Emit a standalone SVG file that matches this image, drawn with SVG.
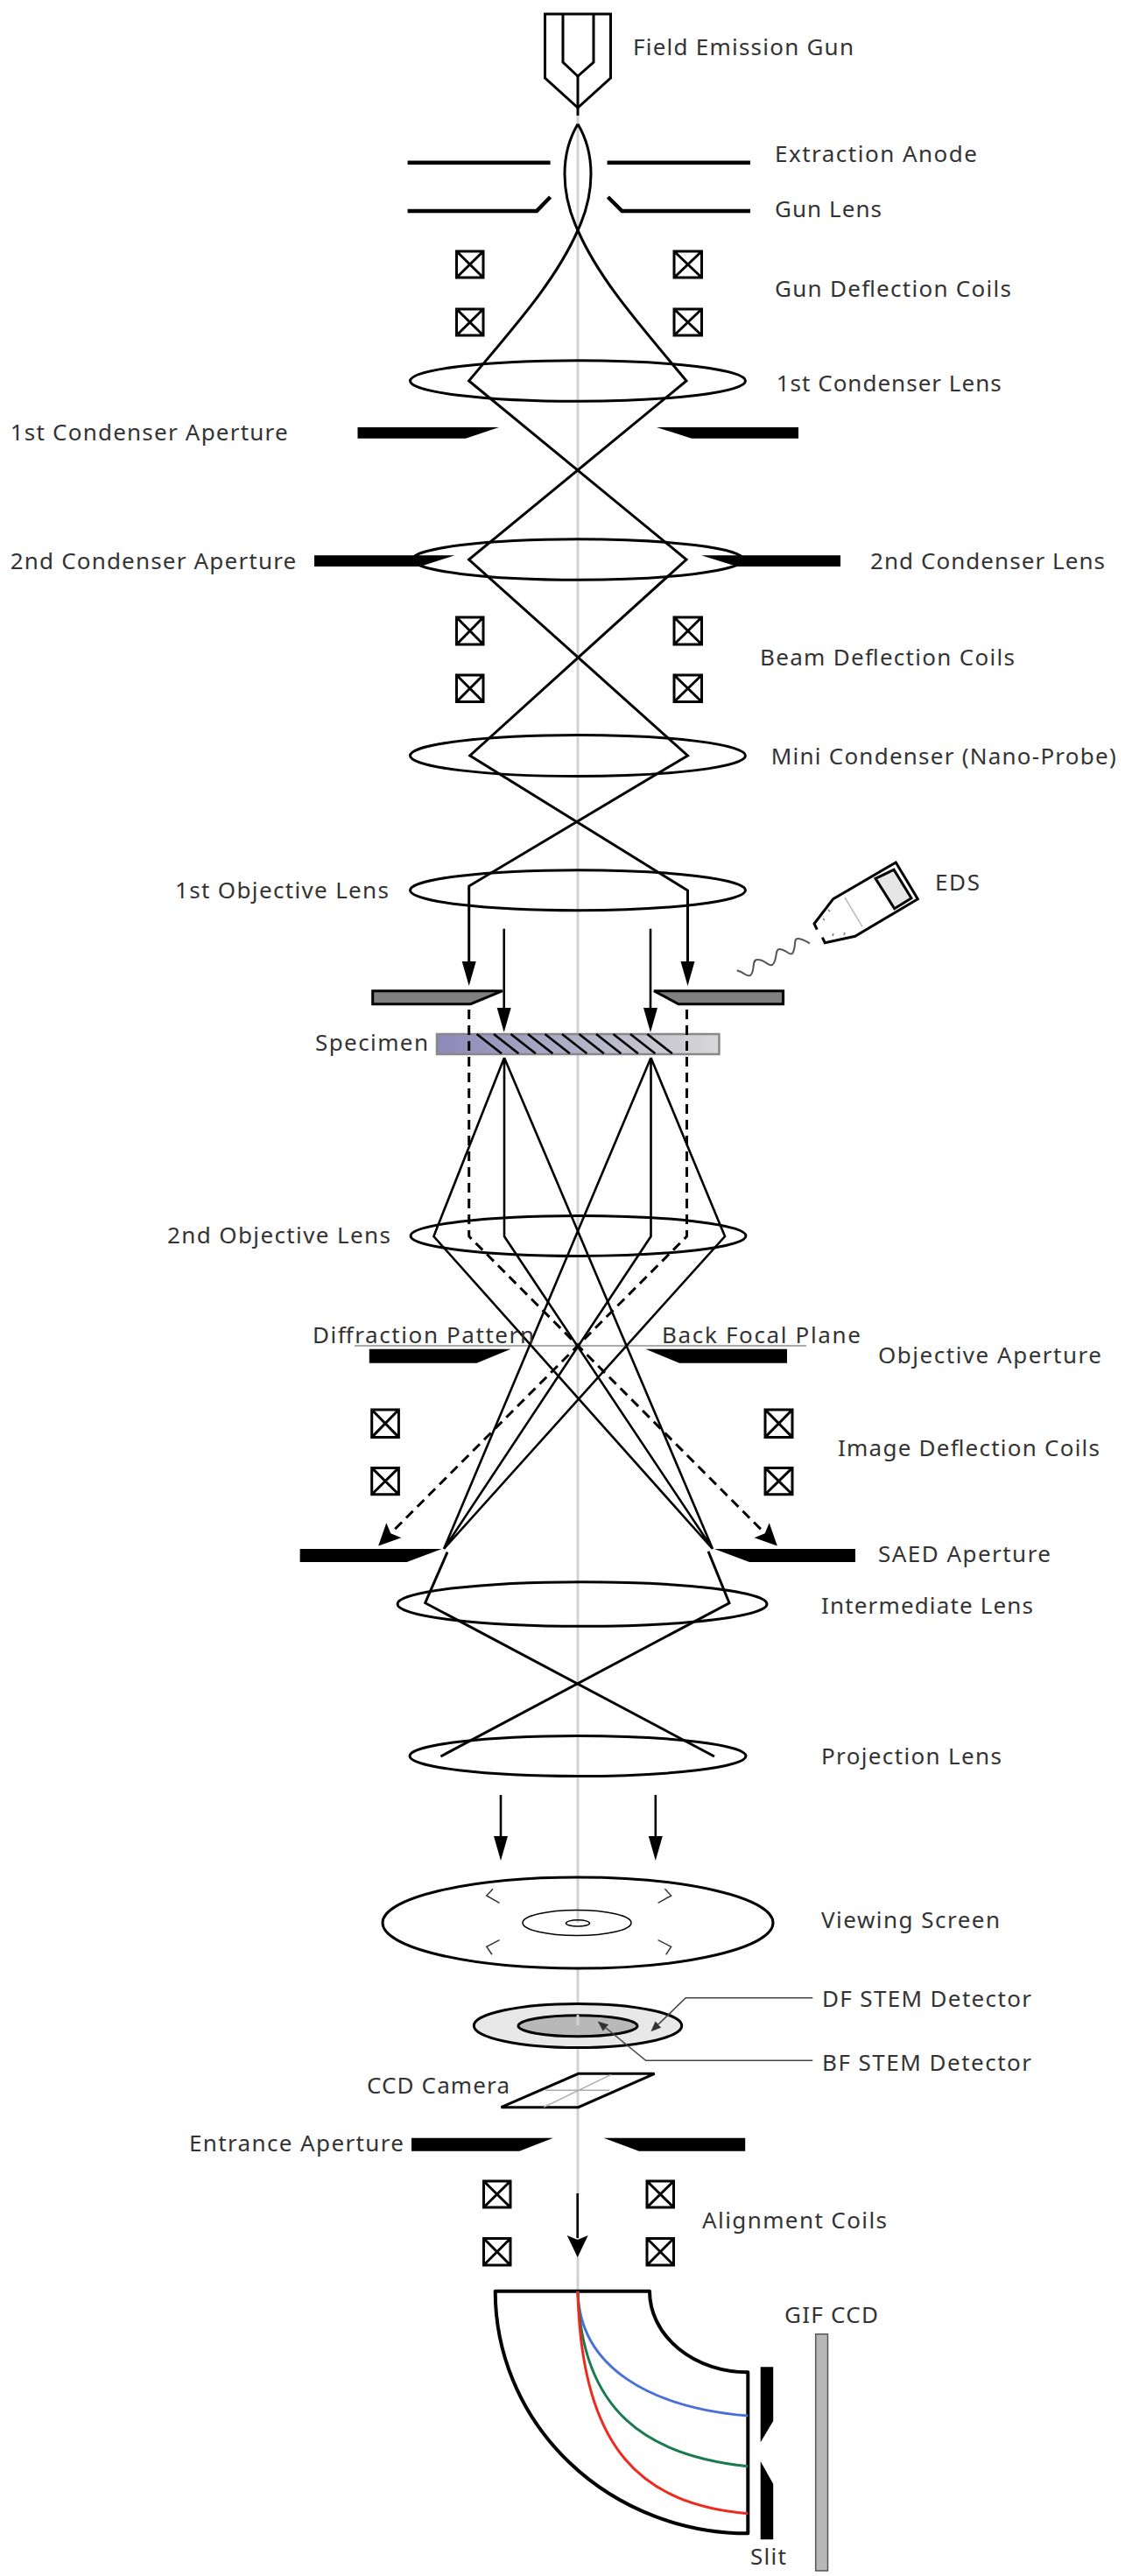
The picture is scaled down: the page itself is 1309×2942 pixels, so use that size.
<svg xmlns="http://www.w3.org/2000/svg" width="1309" height="2942" viewBox="0 0 1309 2942">
<style>
text{font-family:"Noto Sans","Open Sans",sans-serif;font-size:26px;fill:#333}
.ln{fill:none;stroke:#000;stroke-width:3;stroke-linejoin:miter}
.thin{fill:none;stroke:#000;stroke-width:2.6}
.lens{fill:none;stroke:#000;stroke-width:3}
.coil{fill:#fff;stroke:#000;stroke-width:3}
.ap{fill:#000;stroke:none}
.axis{fill:none;stroke:#d2d2d2;stroke-width:3}
.gl{fill:none;stroke:#aaa;stroke-width:1.5}
.dash{fill:none;stroke:#000;stroke-width:3;stroke-dasharray:11 7}
.lead{fill:none;stroke:#444;stroke-width:1.6}
</style>
<defs>
<marker id="head" markerUnits="userSpaceOnUse" markerWidth="30" markerHeight="20" refX="0" refY="10" orient="auto"><path d="M0,2 L28,10 L0,18 Z" fill="#000"/></marker>
<marker id="headn" markerUnits="userSpaceOnUse" markerWidth="30" markerHeight="30" refX="3" refY="13" orient="auto"><path d="M0,1 L5,13 L0,25 L25,13 Z" fill="#000"/></marker>
<marker id="small" markerUnits="userSpaceOnUse" markerWidth="14" markerHeight="12" refX="0" refY="6" orient="auto"><path d="M0,1 L12,6 L0,11 Z" fill="#333"/></marker>
<linearGradient id="spec" x1="0" x2="1" y1="0" y2="0"><stop offset="0" stop-color="#8d88b8"/><stop offset="1" stop-color="#d8d8d8"/></linearGradient>
</defs>

<g id="axis"><path class="axis" d="M660,132V2196M660,2248V2313M660,2338V2617"/></g>

<g id="field-emission-gun">
<path class="ln" d="M622.5,16H697.5V89L660,123L622.5,89Z"/>
<path class="ln" d="M643,16V71L660,87L678,71V16"/>
<path class="ln" d="M660,87V132"/>
</g>
<g id="extraction-anode"><path class="ln" style="stroke-width:4.5" d="M465.6,185.7H628.6M693.6,185.7H857"/></g>
<g id="gun-lens"><path class="ln" style="stroke-width:4.5" d="M465.6,241H613L628.6,225M694.4,225L710.5,241H857"/></g>
<g id="gun-deflection-coils">
<path class="coil" d="M521.5,287h30.5v30h-30.5zM521.5,287l30.5,30M552,287l-30.5,30"/>
<path class="coil" d="M521.5,353h30.5v30h-30.5zM521.5,353l30.5,30M552,353l-30.5,30"/>
<path class="coil" d="M770,287h31.5v30h-31.5zM770,287l31.5,30M801.5,287l-31.5,30"/>
<path class="coil" d="M770,353h31.5v30h-31.5zM770,353l31.5,30M801.5,353l-31.5,30"/>
</g>
<g id="first-condenser-lens"><ellipse class="lens" cx="660" cy="435" rx="191.5" ry="23.3"/></g>
<g id="first-condenser-aperture">
<path class="ap" d="M408.5,488H570L532,500.7H408.5Z"/>
<path class="ap" d="M750,488H912V500.7H790Z"/>
</g>
<g id="second-condenser-lens"><ellipse class="lens" cx="660" cy="639" rx="189" ry="23.2"/></g>
<g id="second-condenser-aperture">
<path class="ap" d="M359,634.3H519.5L480,647H359Z"/>
<path class="ap" d="M801,634.3H960V647H842Z"/>
</g>
<g id="beam-deflection-coils">
<path class="coil" d="M521.5,705h30.5v31h-30.5zM521.5,705l30.5,31M552,705l-30.5,31"/>
<path class="coil" d="M521.5,771h30.5v30.5h-30.5zM521.5,771l30.5,30.5M552,771l-30.5,30.5"/>
<path class="coil" d="M770,705h31.5v31h-31.5zM770,705l31.5,31M801.5,705l-31.5,31"/>
<path class="coil" d="M770,771h31.5v30.5h-31.5zM770,771l31.5,30.5M801.5,771l-31.5,30.5"/>
</g>
<g id="mini-condenser"><ellipse class="lens" cx="660" cy="863" rx="191.5" ry="23.5"/></g>
<g id="first-objective-lens"><ellipse class="lens" cx="660" cy="1016.7" rx="191.5" ry="23"/></g>

<g id="objective-stop">
<path d="M425.7,1131.7H574L537.5,1146.7H425.7Z" fill="#808080" stroke="#000" stroke-width="3"/>
<path d="M747,1131.7H894.6V1146.7H775Z" fill="#808080" stroke="#000" stroke-width="3"/>
</g>
<g id="specimen">
<rect x="499" y="1181" width="322.4" height="23" fill="url(#spec)" stroke="#888" stroke-width="2.5"/>
<path class="thin" d="M544.6,1181l28.4,22.3M564,1181l28.4,22.3M583.5,1181l28.4,22.3M603,1181l28.4,22.3M622.5,1181l28.4,22.3M642,1181l28.4,22.3M661.5,1181l28.4,22.3M681,1181l28.4,22.3M700.5,1181l28.4,22.3M720,1181l28.4,22.3M739.3,1181l28.6,22.3"/>
</g>
<g id="eds">
<path class="gl" style="stroke:#bbb" d="M965,1025L985,1058.3"/>
<path fill="none" stroke="#000" stroke-width="3" d="M933.3,1061.7L930,1055L951.7,1026.7L1023.3,985L1048.3,1026.7L976.7,1069.3L942.3,1076.7L939.3,1070.7"/>
<path fill="#e6e6e6" stroke="#000" stroke-width="3" d="M1000,1003.3L1021,993.3L1041,1025.7L1021.7,1037.7Z"/>
<path fill="none" stroke="#777" stroke-width="1.5" d="M946,1039l2,2M940,1049l2,2M951,1069l1,-3M964,1068l1,-3"/>
<path fill="none" stroke="#555" stroke-width="2" d="M841.7,1108.3C852,1111 852,1116 857,1114C863,1110 858,1096 865,1096C875,1096 877,1104 882,1102C888,1098 885,1084 890,1084C898,1084 902,1092 905,1089C910,1082 906,1072 911,1072C916,1072 921,1075 925,1077.3"/>
</g>
<g id="second-objective-lens"><ellipse class="lens" cx="660.5" cy="1411.4" rx="191.5" ry="23"/></g>
<g id="objective-aperture">
<path class="ap" d="M421.8,1540.7H583.4L544.6,1556.8H421.8Z"/>
<path class="ap" d="M737.4,1540.7H899V1556.8H776Z"/>
</g>
<g id="back-focal-plane"><path fill="none" stroke="#aaa" stroke-width="2" d="M405,1537H921"/></g>
<g id="image-deflection-coils">
<path class="coil" d="M424.7,1610h30.7v31.4h-30.7zM424.7,1610l30.7,31.4M455.4,1610l-30.7,31.4"/>
<path class="coil" d="M424.7,1676.4h30.7v30.4h-30.7zM424.7,1676.4l30.7,30.4M455.4,1676.4l-30.7,30.4"/>
<path class="coil" d="M874,1610h31v31.4h-31zM874,1610l31,31.4M905,1610l-31,31.4"/>
<path class="coil" d="M874,1676.4h31v30.4h-31zM874,1676.4l31,30.4M905,1676.4l-31,30.4"/>
</g>
<g id="saed-aperture">
<path class="ap" d="M342.6,1769H504.7L464.7,1784H342.6Z"/>
<path class="ap" d="M816,1769H977V1784H856Z"/>
</g>
<g id="intermediate-lens"><ellipse class="lens" cx="665" cy="1832" rx="211" ry="25.3"/></g>
<g id="projection-lens"><ellipse class="lens" cx="660" cy="2005.5" rx="192" ry="23"/></g>
<g id="viewing-screen">
<ellipse class="lens" cx="660" cy="2196" rx="223" ry="52"/>
<ellipse fill="none" stroke="#000" stroke-width="1.5" cx="659" cy="2196" rx="62" ry="14.5"/>
<ellipse fill="none" stroke="#000" stroke-width="1.5" cx="660" cy="2196.4" rx="13.5" ry="3.6"/>
<path fill="none" stroke="#333" stroke-width="1.5" d="M563,2157.3L555.8,2165L570.5,2173.3M759.5,2157.3L766.6,2165L751.6,2173.3M570.5,2215.7L555.8,2223.3L562,2232.3M751.6,2215.7L766.6,2223.3L760.7,2232.3"/>
</g>
<g id="df-stem-detector"><ellipse cx="660" cy="2313.5" rx="118.7" ry="25" fill="#e8e8e8" stroke="#000" stroke-width="3"/></g>
<g id="bf-stem-detector"><ellipse cx="660" cy="2313.7" rx="68" ry="12" fill="#b8b8b8" stroke="#000" stroke-width="3"/>
<path class="axis" d="M660,2301V2313"/></g>
<g id="ccd-camera">
<path class="ln" d="M660.6,2368.3H747.6L660.6,2406.7H572.5Z"/>
<path class="gl" d="M623,2387.3H696M698,2369.3L621,2406.7"/>
</g>
<g id="entrance-aperture">
<path class="ap" d="M470,2441.7H631.8L593.4,2456.7H470Z"/>
<path class="ap" d="M689.5,2441.7H851.2V2456.7H729.8Z"/>
</g>
<g id="alignment-coils">
<path class="coil" d="M552.5,2491h30.5v30h-30.5zM552.5,2491l30.5,30M583,2491l-30.5,30"/>
<path class="coil" d="M552.5,2556.5h30.5v30.5h-30.5zM552.5,2556.5l30.5,30.5M583,2556.5l-30.5,30.5"/>
<path class="coil" d="M739,2491h30.5v30h-30.5zM739,2491l30.5,30M769.5,2491l-30.5,30"/>
<path class="coil" d="M739,2556.5h30.5v30.5h-30.5zM739,2556.5l30.5,30.5M769.5,2556.5l-30.5,30.5"/>
</g>
<g id="gif-prism">
<path fill="none" stroke="#000" stroke-width="4" stroke-linejoin="round" d="M565.7,2616.7H742A112,92.7 0 0 0 854.3,2709.3V2893.3A288.6,276.6 0 0 1 565.7,2616.7Z"/>
<path fill="none" stroke="#4a6fd8" stroke-width="3" d="M660,2617C662,2705 745,2750 854.3,2759"/>
<path fill="none" stroke="#1a7a50" stroke-width="3" d="M660,2617C664,2755 740,2805 854.3,2816.7"/>
<path fill="none" stroke="#ec2a1f" stroke-width="3" d="M660,2617C664,2800 735,2860 854.3,2870.7"/>
</g>
<g id="slit">
<path class="ap" d="M868.7,2703.3H883.2V2765L868.7,2789.3Z"/>
<path class="ap" d="M868.7,2811L883.2,2836.7V2900.3H868.7Z"/>
</g>
<g id="gif-ccd"><rect x="931.7" y="2665.7" width="13.8" height="270.3" fill="#b8b8b8" stroke="#555" stroke-width="1.5"/></g>

<g id="connectors">
<path class="ln" d="M660,141.7C640,175 640,220 660,263C685,320 730,370 784,435L535.6,639L785.5,863L535.7,1012V1098" marker-end="url(#head)"/>
<path class="ln" d="M660,141.7C680,175 680,220 660,263C635,320 590,370 535.6,435L784,639L536.8,863L785.5,1017V1098" marker-end="url(#head)"/>
<path class="thin" d="M575.7,1060.7V1151" marker-end="url(#head)"/>
<path class="thin" d="M743,1060.7V1151" marker-end="url(#head)"/>
<path class="dash" d="M535.7,1153V1412L872.3,1749.8" marker-end="url(#headn)"/>
<path class="dash" d="M784.5,1153V1412L447.7,1749.8" marker-end="url(#headn)"/>
<path class="thin" d="M576,1208L495.4,1412L814,1769M576,1208V1412L814,1769M576,1208L814,1769"/>
<path class="thin" d="M743.5,1208L828,1412L507,1769M743.5,1208V1412L507,1769M743.5,1208L507,1769"/>
<path class="ln" d="M511,1772.7L485.7,1830.7L816,2006"/>
<path class="ln" d="M809,1771.7L833,1830.7L503.4,2006"/>
<path class="thin" d="M572,2050V2097" marker-end="url(#head)"/>
<path class="thin" d="M748.8,2050V2097" marker-end="url(#head)"/>
<path class="thin" d="M659.7,2505V2556" marker-end="url(#headn)"/>
<path class="lead" d="M928.3,2281.7H783.2L752,2312" marker-end="url(#small)"/>
<path class="lead" d="M928.3,2353.3H737.7L692,2316" marker-end="url(#small)"/>
</g>

<g id="labels">
<text x="723" y="63" textLength="252">Field Emission Gun</text>
<text x="885" y="185" textLength="231">Extraction Anode</text>
<text x="885" y="248" textLength="122">Gun Lens</text>
<text x="885" y="339" textLength="270">Gun Deflection Coils</text>
<text x="886.7" y="447" textLength="257">1st Condenser Lens</text>
<text x="11.7" y="503" textLength="317">1st Condenser Aperture</text>
<text x="11.7" y="650" textLength="326.5">2nd Condenser Aperture</text>
<text x="994" y="650" textLength="268">2nd Condenser Lens</text>
<text x="868" y="760" textLength="291">Beam Deflection Coils</text>
<text x="880.7" y="873" textLength="394">Mini Condenser (Nano-Probe)</text>
<text x="200" y="1026" textLength="244">1st Objective Lens</text>
<text x="1068" y="1017" textLength="51">EDS</text>
<text x="360" y="1200" textLength="129">Specimen</text>
<text x="191" y="1420" textLength="255">2nd Objective Lens</text>
<text x="357" y="1533.6" textLength="253">Diffraction Pattern</text>
<text x="756" y="1533.6" textLength="227">Back Focal Plane</text>
<text x="1003" y="1557" textLength="255">Objective Aperture</text>
<text x="957" y="1663" textLength="299">Image Deflection Coils</text>
<text x="1003" y="1784" textLength="197">SAED Aperture</text>
<text x="938" y="1843" textLength="242">Intermediate Lens</text>
<text x="938" y="2015" textLength="206">Projection Lens</text>
<text x="938" y="2202" textLength="204">Viewing Screen</text>
<text x="939" y="2292" textLength="239">DF STEM Detector</text>
<text x="939" y="2365" textLength="239">BF STEM Detector</text>
<text x="419" y="2391" textLength="163">CCD Camera</text>
<text x="216" y="2457" textLength="245">Entrance Aperture</text>
<text x="802" y="2545" textLength="211">Alignment Coils</text>
<text x="896" y="2653" textLength="107">GIF CCD</text>
<text x="857" y="2929" textLength="41">Slit</text>
</g>
</svg>
